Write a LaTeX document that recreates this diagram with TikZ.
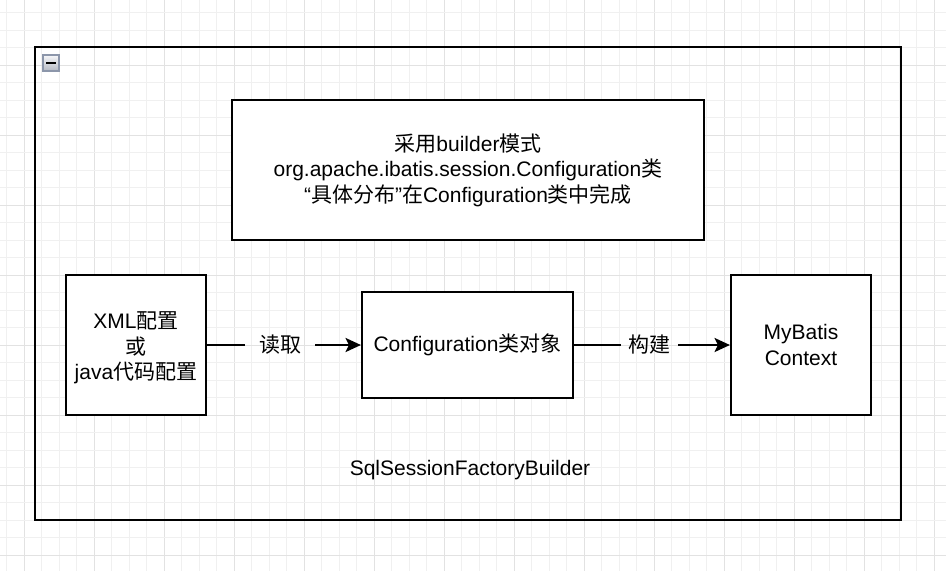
\documentclass[tikz,border=0pt]{standalone}
\usepackage{fontspec}
\setmainfont{Liberation Sans}
\newfontfamily\cjkf{Noto Sans CJK SC}
\newcommand{\zh}[1]{{\cjkf #1}}
\newcommand{\txtfont}{\fontsize{15.75pt}{19.1pt}\selectfont}
\usetikzlibrary{arrows.meta}
\definecolor{gridminor}{HTML}{F0F0F0}
\definecolor{gridmajor}{HTML}{E2E2E2}
\definecolor{iconborder}{HTML}{8C96AA}
\definecolor{icontop}{HTML}{F6F7F9}
\definecolor{iconbot}{HTML}{B4B8C2}
\begin{document}
\begin{tikzpicture}[x=0.75pt,y=-0.75pt,
  box/.style={draw=black, line width=1.6pt, fill=white, inner sep=0pt, align=center, font=\txtfont},
  frame/.style={draw=black, line width=1.6pt, inner sep=0pt},
  lbl/.style={inner sep=0pt, align=center, font=\txtfont},
  edge/.style={draw=black, line width=1.6pt},
  tip/.style={-{Stealth[length=11.5pt, width=10.5pt, inset=2.5pt]}},
  icon/.style={draw=iconborder, line width=1.2pt, top color=icontop, bottom color=iconbot, minimum size=12pt, inner sep=0pt}]
\useasboundingbox (0,0) rectangle (946,571);
\fill[white] (0,0) rectangle (946,571);
% grid
\foreach \k in {0,...,54} {
  \pgfmathsetmacro{\xx}{6.8+17.5*\k}
  \pgfmathtruncatemacro{\mj}{mod(\k+3,4)==0}
  \ifnum\mj=1
    \draw[gridmajor, line width=0.75pt] (\xx,0) -- (\xx,571);
  \else
    \draw[gridminor, line width=0.75pt] (\xx,0) -- (\xx,571);
  \fi
}
\foreach \k in {0,...,34} {
  \pgfmathsetmacro{\yy}{-5+17.5*\k}
  \pgfmathtruncatemacro{\mj}{mod(\k,4)==0}
  \ifnum\mj=1
    \draw[gridmajor, line width=0.75pt] (0,\yy) -- (946,\yy);
  \else
    \draw[gridminor, line width=0.75pt] (0,\yy) -- (946,\yy);
  \fi
}
% container
\node[frame, minimum width=649.5pt, minimum height=354.75pt] (cont) at (468,283.5) {};
\node[icon] (collapse) at (51,63) {};
\draw[black, line width=2.2pt] ([xshift=-3.4pt]collapse.center) -- ([xshift=3.4pt]collapse.center);
% boxes
\node[box, minimum width=354pt, minimum height=105pt] (top) at (468,170)
  {\zh{采用}builder\zh{模式}\\org.apache.ibatis.session.Configuration\zh{类}\\“\zh{具体分布}”\zh{在}Configuration\zh{类中完成}};
\node[box, minimum width=105pt, minimum height=105pt] (xml) at (136,345) {};
\node[lbl] (xmltxt) at (136,348) {XML\zh{配置}\\\zh{或}\\java\zh{代码配置}};
\node[box, minimum width=158.25pt, minimum height=79.5pt] (conf) at (467.5,345)
  {Configuration\zh{类对象}};
\node[box, minimum width=105pt, minimum height=105pt] (myb) at (801,345)
  {MyBatis\\Context};
% labels
\node[lbl, minimum width=52.5pt] (l1) at (280,345) {\zh{读取}};
\node[lbl, minimum width=42.75pt] (l2) at (649.5,345) {\zh{构建}};
\draw[edge] (xml.east) -- (l1.west);
\draw[edge, tip] (l1.east) -- (conf.west);
\draw[edge] (conf.east) -- (l2.west);
\draw[edge, tip] (l2.east) -- (myb.west);
\node[lbl] (title) at (470,470) {SqlSessionFactoryBuilder};
\end{tikzpicture}
\end{document}
